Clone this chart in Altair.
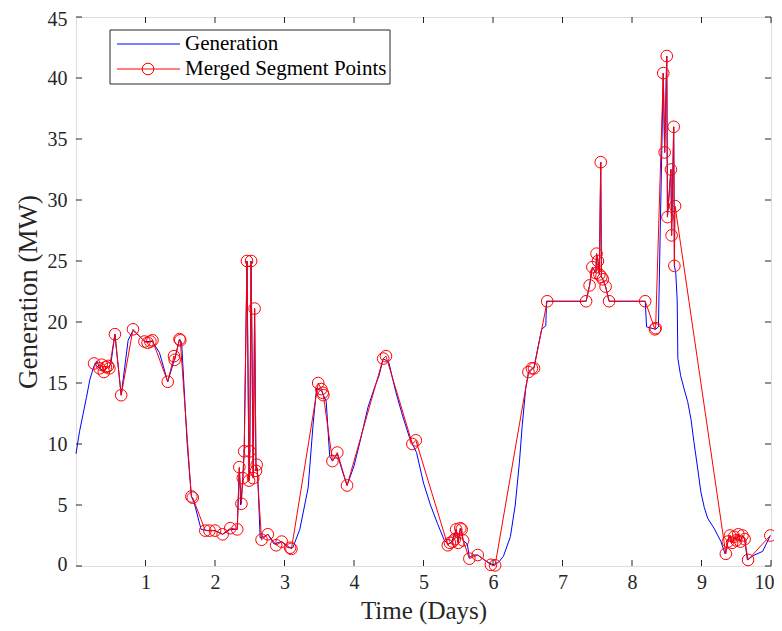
import altair as alt
import pandas as pd

# ---- data ----
blue_t = [0.00, 0.05, 0.10, 0.15, 0.20, 0.26, 0.30, 0.34, 0.40, 0.46, 0.50, 0.56, 0.65, 0.75, 0.82, 0.90,
          0.99, 1.10, 1.20, 1.32, 1.42, 1.49, 1.52, 1.60, 1.66, 1.70, 1.80, 1.90, 2.00, 2.11, 2.22, 2.32,
          2.35, 2.37, 2.40, 2.42, 2.46, 2.49, 2.50, 2.52, 2.55, 2.57, 2.59, 2.61, 2.65, 2.70, 2.76, 2.85,
          2.96, 3.05, 3.12, 3.22, 3.34, 3.41, 3.46, 3.53, 3.56, 3.60, 3.65, 3.69, 3.76, 3.82, 3.90, 4.00,
          4.10, 4.20, 4.30, 4.36, 4.42, 4.50, 4.60, 4.70, 4.80, 4.90, 5.00, 5.10, 5.20, 5.30, 5.35, 5.40,
          5.47, 5.50, 5.53, 5.57, 5.63, 5.66, 5.72, 5.78, 5.90, 6.00, 6.08, 6.15, 6.25, 6.32, 6.38, 6.42,
          6.47, 6.51, 6.59, 6.65, 6.70, 6.76, 6.77, 7.34, 7.39, 7.43, 7.48, 7.49, 7.51, 7.53, 7.55, 7.56,
          7.58, 7.62, 7.67, 8.19, 8.21, 8.34, 8.38, 8.45, 8.47, 8.50, 8.51, 8.56, 8.57, 8.60, 8.61, 8.63,
          8.65, 8.66, 8.70, 8.75, 8.80, 8.85, 8.89, 8.94, 8.99, 9.04, 9.09, 9.18, 9.28, 9.34, 9.38, 9.41,
          9.44, 9.47, 9.50, 9.53, 9.56, 9.59, 9.62, 9.66, 9.76, 9.88, 9.99]
blue_g = [9.2, 11.0, 12.4, 13.8, 15.3, 16.4, 16.8, 16.2, 16.0, 16.3, 16.5, 19.0, 14.0, 18.5, 19.3, 18.9,
          18.4, 18.4, 17.5, 15.1, 17.0, 18.6, 18.3, 10.0, 5.7, 5.2, 3.0, 2.9, 2.9, 2.6, 3.0, 3.0,
          8.0, 5.0, 7.2, 9.4, 25.0, 7.0, 9.4, 25.0, 7.2, 21.1, 7.8, 8.0, 2.3, 2.4, 2.6, 1.8,
          2.0, 1.5, 1.5, 3.0, 6.4, 11.5, 14.5, 14.4, 14.0, 13.5, 9.0, 8.6, 9.2, 8.0, 6.6, 8.2,
          10.5, 13.0, 14.7, 15.6, 17.0, 16.7, 14.3, 12.3, 10.5, 9.3, 6.8, 5.0, 3.5, 2.1, 1.8, 1.9,
          3.0, 2.0, 3.1, 2.1, 1.8, 0.7, 0.9, 0.9, 0.4, 0.1, 0.3, 0.8, 2.4, 5.0, 8.5, 11.5,
          14.5, 15.8, 16.3, 18.0, 19.4, 19.7, 21.7, 21.7, 23.0, 24.5, 24.0, 25.6, 25.0, 23.9, 33.1, 23.7,
          23.5, 22.9, 21.7, 21.7, 19.6, 19.4, 19.6, 40.4, 33.9, 41.8, 28.6, 32.5, 27.1, 36.0, 24.6, 24.0,
          21.8, 17.0, 15.6, 14.5, 13.5, 12.0, 10.2, 8.2, 6.1, 4.8, 3.9, 3.1, 2.0, 1.0, 2.0, 2.5,
          1.9, 2.4, 2.1, 2.6, 2.0, 2.5, 2.2, 0.5, 0.9, 1.2, 2.5]

red_t = [0.26, 0.34, 0.37, 0.40, 0.43, 0.46, 0.48, 0.56, 0.65, 0.82, 0.985, 1.03, 1.07, 1.10, 1.32, 1.41,
         1.42, 1.49, 1.50, 1.66, 1.68, 1.86, 1.92, 2.00, 2.11, 2.22, 2.32, 2.35, 2.38, 2.40, 2.42, 2.46,
         2.49, 2.50, 2.52, 2.55, 2.57, 2.59, 2.60, 2.67, 2.76, 2.88, 2.96, 3.08, 3.10, 3.485, 3.53, 3.55,
         3.56, 3.69, 3.76, 3.90, 4.42, 4.46, 4.84, 4.89, 5.35, 5.38, 5.42, 5.45, 5.47, 5.50, 5.53, 5.55,
         5.57, 5.66, 5.78, 5.97, 6.03, 6.51, 6.56, 6.59, 6.78, 7.34, 7.39, 7.43, 7.48, 7.49, 7.51, 7.53,
         7.55, 7.56, 7.58, 7.62, 7.67, 8.19, 8.33, 8.34, 8.45, 8.47, 8.50, 8.51, 8.56, 8.57, 8.60, 8.61,
         8.62, 9.35, 9.38, 9.41, 9.44, 9.47, 9.50, 9.53, 9.56, 9.59, 9.62, 9.67, 9.99]
red_g = [16.6, 16.2, 16.5, 15.9, 16.3, 16.4, 16.2, 19.0, 14.0, 19.4, 18.4, 18.3, 18.4, 18.5, 15.1, 17.2,
         16.9, 18.6, 18.5, 5.7, 5.6, 2.9, 2.9, 2.9, 2.6, 3.1, 3.0, 8.1, 5.1, 7.2, 9.4, 25.0,
         7.0, 9.4, 25.0, 7.2, 21.1, 7.8, 8.3, 2.15, 2.6, 1.7, 2.0, 1.5, 1.4, 15.0, 14.5, 14.2,
         14.0, 8.6, 9.3, 6.6, 17.0, 17.2, 10.0, 10.3, 1.7, 1.9, 2.0, 2.2, 3.0, 1.9, 3.1, 3.0,
         2.1, 0.6, 0.9, 0.1, 0.05, 15.9, 16.2, 16.2, 21.7, 21.7, 23.0, 24.5, 24.0, 25.6, 25.0, 23.9,
         33.1, 23.7, 23.5, 22.9, 21.7, 21.7, 19.4, 19.5, 40.4, 33.9, 41.8, 28.6, 32.5, 27.1, 36.0, 24.6,
         29.5, 1.0, 2.0, 2.5, 1.9, 2.4, 2.1, 2.6, 2.0, 2.5, 2.2, 0.5, 2.5]

x_ticks = [1, 2, 3, 4, 5, 6, 7, 8, 9, 10]
y_ticks = [0, 5, 10, 15, 20, 25, 30, 35, 40, 45]
legend_labels = ["Generation", "Merged Segment Points"]

W, H = 695, 549
FONT = "Liberation Serif"
AX = "#262626"

blue_df = pd.DataFrame({"t": blue_t, "g": blue_g, "i": range(len(blue_t))})
red_df = pd.DataFrame({"t": red_t, "g": red_g, "i": range(len(red_t))})
xt_df = pd.DataFrame({"v": x_ticks})
yt_df = pd.DataFrame({"v": y_ticks})

xs = alt.Scale(domain=[0, 10], nice=False, zero=False)
ys = alt.Scale(domain=[0, 45], nice=False, zero=False)

x_axis = alt.Axis(values=x_ticks, format="d", ticks=False, domain=False, grid=False,
                  labelFont=FONT, labelFontSize=20, labelColor=AX, labelPadding=6,
                  labelFlush=True, labelFlushOffset=3, title="Time (Days)", titleFont=FONT,
                  titleFontSize=25, titleFontWeight="normal", titleColor=AX, titlePadding=6)
y_axis = alt.Axis(values=y_ticks, format="d", ticks=False, domain=False, grid=False,
                  labelFont=FONT, labelFontSize=20, labelColor=AX, labelPadding=9,
                  labelFlush=True, labelFlushOffset=8, title="Generation (MW)", titleFont=FONT,
                  titleFontSize=27, titleFontWeight="normal", titleColor=AX, titlePadding=5)

blue = alt.Chart(blue_df).mark_line(color="#0000ff", strokeWidth=1).encode(
    x=alt.X("t:Q", scale=xs, axis=x_axis),
    y=alt.Y("g:Q", scale=ys, axis=y_axis),
    order="i:Q",
)
red_line = alt.Chart(red_df).mark_line(color="#ff0000", strokeWidth=1).encode(
    x=alt.X("t:Q", scale=xs), y=alt.Y("g:Q", scale=ys), order="i:Q")
red_pts = alt.Chart(red_df).mark_point(color="#ff0000", filled=False, size=135, strokeWidth=1,
                                       opacity=1).encode(
    x=alt.X("t:Q", scale=xs), y=alt.Y("g:Q", scale=ys))

TL = 6
tb = alt.Chart(xt_df).mark_rule(color=AX, strokeWidth=1).encode(
    x=alt.X("v:Q", scale=xs), y=alt.value(H), y2=alt.value(H - TL))
tt = alt.Chart(xt_df).mark_rule(color=AX, strokeWidth=1).encode(
    x=alt.X("v:Q", scale=xs), y=alt.value(0), y2=alt.value(TL))
tl = alt.Chart(yt_df).mark_rule(color=AX, strokeWidth=1).encode(
    y=alt.Y("v:Q", scale=ys), x=alt.value(0), x2=alt.value(TL))
tr = alt.Chart(yt_df).mark_rule(color=AX, strokeWidth=1).encode(
    y=alt.Y("v:Q", scale=ys), x=alt.value(W), x2=alt.value(W - TL))

# legend
lg_df = pd.DataFrame({"label": legend_labels})
box = alt.Chart(lg_df.head(1)).mark_rect(fill="white", stroke=AX, strokeWidth=1).encode(
    x=alt.value(34), x2=alt.value(314), y=alt.value(13), y2=alt.value(67))
lg_blue = alt.Chart(lg_df.head(1)).mark_rule(color="#0000ff", strokeWidth=1).encode(
    x=alt.value(41), x2=alt.value(104), y=alt.value(27))
lg_red = alt.Chart(lg_df.head(1)).mark_rule(color="#ff0000", strokeWidth=1).encode(
    x=alt.value(41), x2=alt.value(104), y=alt.value(52))
lg_pt = alt.Chart(lg_df.head(1)).mark_point(color="#ff0000", filled=False, size=135,
                                            strokeWidth=1, opacity=1).encode(
    x=alt.value(72), y=alt.value(52))
lg_t1 = alt.Chart(lg_df.iloc[[0]]).mark_text(font=FONT, fontSize=21, color="black", align="left",
                                             baseline="middle").encode(
    x=alt.value(109), y=alt.value(27), text="label:N")
lg_t2 = alt.Chart(lg_df.iloc[[1]]).mark_text(font=FONT, fontSize=21, color="black", align="left",
                                             baseline="middle").encode(
    x=alt.value(109), y=alt.value(52), text="label:N")

chart = alt.layer(blue, red_line, red_pts, tb, tt, tl, tr, box, lg_blue, lg_red, lg_pt, lg_t1, lg_t2).properties(
    width=W, height=H,
    autosize=alt.AutoSizeParams(type="none"),
    padding={"left": 68, "top": 9, "right": 3, "bottom": 60},
).configure_view(stroke=AX, strokeWidth=1).configure(background="white")

chart.save("out.html", embed_options={"renderer": "svg", "actions": False})
